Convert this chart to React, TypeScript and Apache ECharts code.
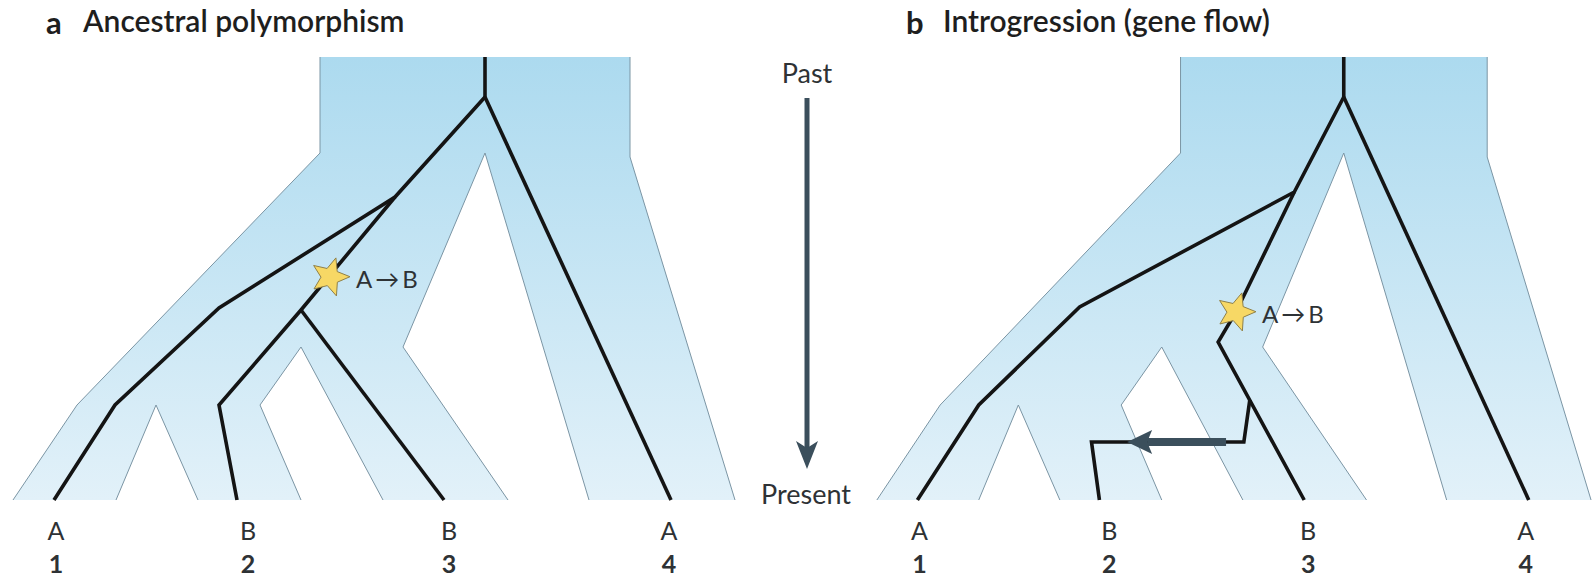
import { useEffect, useRef } from "react";
import * as echarts from "echarts";

// ---- Species tree (same in both panels). x = lineage position, y = time before present ----
const speciesOuterLeft = [[320, 443], [320, 347], [77, 95], [13, 0]];
const speciesOuterRight = [[630, 443], [630, 343], [735, 0]];
const gapSpecies34 = [[508, 0], [403, 153], [485, 347], [589, 0]];
const gapSpecies12 = [[116, 0], [156, 95], [198, 0]];
const gapSpecies23 = [[301, 0], [260, 95], [301, 153], [383, 0]];

// ---- Gene trees ----
const geneTreeA = [
  [[485, 443], [485, 403]],
  [[485, 403], [671, 0]],
  [[485, 403], [395, 303], [219, 192], [115, 95], [54, 0]],
  [[395, 303], [301, 190], [219, 95], [237, 0]],
  [[301, 190], [444, 0]],
];
const geneTreeB = [
  [[485, 443], [485, 403]],
  [[485, 403], [672, 0]],
  [[485, 403], [435, 308], [218, 193], [116, 95], [54, 0]],
  [[435, 308], [376, 188], [358, 158], [445, 0]],
  [[390, 100], [384, 58], [230, 58], [238, 0]],
];
const geneFlowB = [[366, 58], [266, 58]];
const mutationA = [330, 223];
const mutationB = [376, 188];
const mutationLabel = "A\u2009\u2192\u2009B";

// ---- Tips ----
const tipStates = ["A", "B", "B", "A"];
const tipNumbers = ["1", "2", "3", "4"];
const tipX = [56, 248, 449, 669];
const tipStateY = -30;
const tipNumberY = -63;

const panelTitles = [
  ["a", "Ancestral polymorphism"],
  ["b", "Introgression (gene flow)"],
];

const FONT = "Lato, 'Noto Sans', sans-serif";
const TEXT_COLOR = "#2e3235";
const ARROW_COLOR = "#3b4f5c";

function starPoints(cx: number, cy: number, R: number, r: number, rot: number) {
  const pts: number[][] = [];
  for (let i = 0; i < 10; i++) {
    const rad = i % 2 === 0 ? R : r;
    const a = rot + (i * Math.PI) / 5 - Math.PI / 2;
    pts.push([cx + rad * Math.cos(a), cy + rad * Math.sin(a)]);
  }
  return pts;
}

function makeRenderer(gene: number[][][], mutation: number[], flow: number[][] | null) {
  return (_params: any, api: any) => {
    const pt = (p: number[]) => api.coord(p);
    const children: any[] = [];
    const outline = speciesOuterLeft.concat([...speciesOuterRight].reverse());
    children.push({
      type: "polygon",
      shape: { points: outline.map(pt) },
      style: {
        fill: new echarts.graphic.LinearGradient(0, 0, 0, 1, [
          { offset: 0, color: "#acdaef" },
          { offset: 1, color: "#e2f1f9" },
        ]),
        stroke: "none",
      },
    });
    [gapSpecies34, gapSpecies12, gapSpecies23].forEach((g) => {
      children.push({ type: "polygon", shape: { points: g.map(pt) }, style: { fill: "#ffffff", stroke: "none" } });
    });
    [speciesOuterLeft, speciesOuterRight, gapSpecies34, gapSpecies12, gapSpecies23].forEach((g) => {
      children.push({ type: "polyline", shape: { points: g.map(pt) }, style: { fill: "none", stroke: "#7b95a4", lineWidth: 1 } });
    });
    gene.forEach((line) => {
      children.push({
        type: "polyline",
        shape: { points: line.map(pt) },
        style: { fill: "none", stroke: "#141414", lineWidth: 3.6, lineJoin: "miter" },
      });
    });
    if (flow) {
      const a = pt(flow[0]);
      const b = pt(flow[1]);
      children.push({
        type: "line",
        shape: { x1: a[0], y1: a[1], x2: b[0] + 20, y2: b[1] },
        style: { stroke: ARROW_COLOR, lineWidth: 8 },
      });
      children.push({
        type: "polygon",
        shape: { points: [[b[0], b[1]], [b[0] + 25, b[1] - 12], [b[0] + 20, b[1]], [b[0] + 25, b[1] + 12]] },
        style: { fill: ARROW_COLOR, stroke: "none" },
      });
    }
    const m = pt(mutation);
    children.push({
      type: "polygon",
      shape: { points: starPoints(m[0], m[1], 20, 9, 0.3) },
      style: { fill: "#f7d865", stroke: "#8f8048", lineWidth: 1 },
    });
    children.push({
      type: "text",
      x: m[0] + 26,
      y: m[1] + 1,
      style: { text: mutationLabel, font: `24px ${FONT}`, fill: TEXT_COLOR, textAlign: "left", textVerticalAlign: "middle", align: "left", verticalAlign: "middle" },
    });
    tipX.forEach((x, i) => {
      const s = pt([x, tipStateY]);
      children.push({
        type: "text",
        x: s[0],
        y: s[1],
        style: { text: tipStates[i], font: `25px ${FONT}`, fill: TEXT_COLOR, textAlign: "center", textVerticalAlign: "middle", align: "center", verticalAlign: "middle" },
      });
      const n = pt([x, tipNumberY]);
      children.push({
        type: "text",
        x: n[0],
        y: n[1],
        style: { text: tipNumbers[i], font: `bold 25px ${FONT}`, fill: TEXT_COLOR, textAlign: "center", textVerticalAlign: "middle", align: "center", verticalAlign: "middle" },
      });
    });
    return { type: "group", children };
  };
}

export default function App() {
  const ref = useRef<HTMLDivElement>(null);
  useEffect(() => {
    document.body.style.margin = "0";
    if (!ref.current) return;
    const chart = echarts.init(ref.current, null, { renderer: "svg" });
    const axisX = (i: number) => ({ type: "value", gridIndex: i, min: 0, max: 740, show: false });
    const axisY = (i: number) => ({ type: "value", gridIndex: i, min: 0, max: 443, show: false });
    const titleText = (x: number, i: number) => [
      {
        type: "text",
        left: x,
        top: 6,
        style: { text: panelTitles[i][0], font: `bold 31px ${FONT}`, fill: "#1e1e1e" },
      },
      {
        type: "text",
        left: x + 37,
        top: 5,
        style: { text: panelTitles[i][1], font: `600 30px ${FONT}`, fill: "#1e1e1e" },
      },
    ];
    chart.setOption({
      animation: false,
      backgroundColor: "#ffffff",
      grid: [
        { left: 0, top: 57, width: 740, height: 443 },
        { left: 864, top: 57, width: 740, height: 443 },
      ],
      xAxis: [axisX(0), axisX(1)],
      yAxis: [axisY(0), axisY(1)],
      series: [
        { type: "custom", xAxisIndex: 0, yAxisIndex: 0, clip: false, silent: true, data: [0], renderItem: makeRenderer(geneTreeA, mutationA, null) },
        { type: "custom", xAxisIndex: 1, yAxisIndex: 1, clip: false, silent: true, data: [0], renderItem: makeRenderer(geneTreeB, mutationB, geneFlowB) },
      ],
      graphic: [
        ...titleText(46, 0),
        ...titleText(906, 1),
        {
          type: "text",
          x: 807,
          y: 72,
          style: { text: "Past", font: `27px ${FONT}`, fill: TEXT_COLOR, textAlign: "center", textVerticalAlign: "middle" },
        },
        {
          type: "text",
          x: 806,
          y: 493,
          style: { text: "Present", font: `27px ${FONT}`, fill: TEXT_COLOR, textAlign: "center", textVerticalAlign: "middle" },
        },
        {
          type: "line",
          shape: { x1: 807, y1: 98, x2: 807, y2: 452 },
          style: { stroke: ARROW_COLOR, lineWidth: 5 },
        },
        {
          type: "polygon",
          shape: { points: [[807, 469], [796, 441], [807, 448], [818, 441]] },
          style: { fill: ARROW_COLOR },
        },
      ],
    });
    return () => chart.dispose();
  }, []);
  return <div ref={ref} style={{ width: 1596, height: 581 }} />;
}
